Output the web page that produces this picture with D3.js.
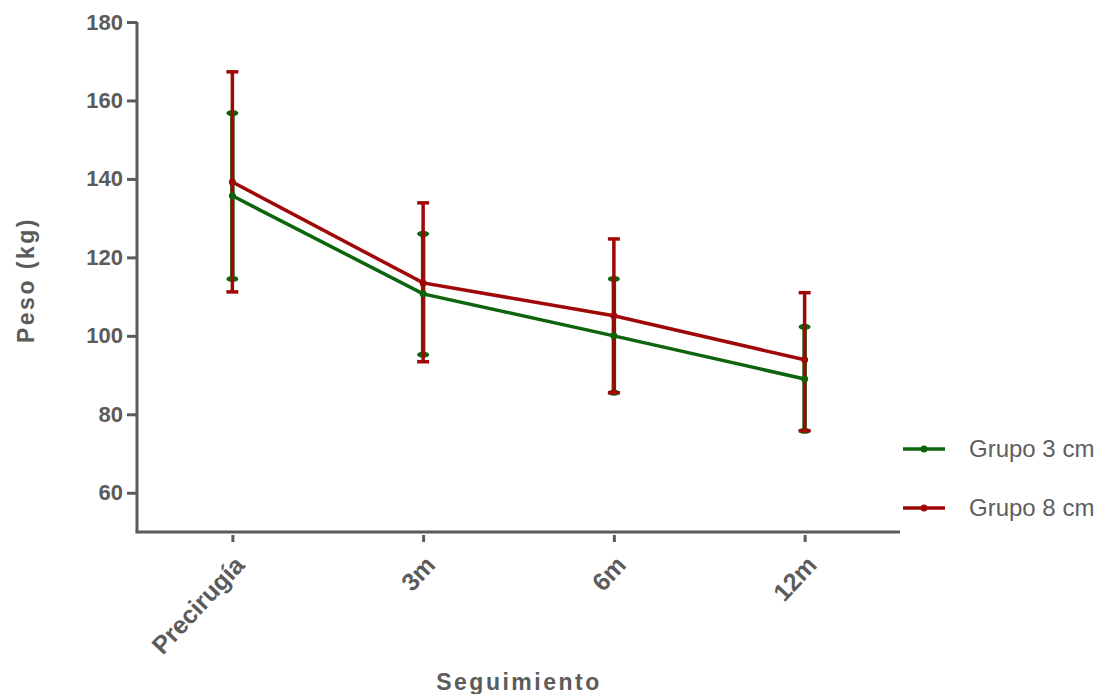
<!DOCTYPE html>
<html>
<head>
  <meta charset='utf-8'>
  <style>
    body { margin: 0; background: #fff; }
    text { font-family: "Liberation Sans", Arial, sans-serif; }
  </style>
  <script src="https://cdn.jsdelivr.net/npm/d3@7"></script>
</head>
<body>
  <script>
    const categories = ["Precirugía", "3m", "6m", "12m"];
    const yTicks = [60, 80, 100, 120, 140, 160, 180];

    const grupo3Mean = [135.7, 110.7, 100.0, 89.0];
    const grupo3Low = [114.5, 95.2, 85.5, 75.8];
    const grupo3High = [156.8, 126.0, 114.5, 102.3];

    const grupo8Mean = [139.2, 113.5, 105.1, 93.9];
    const grupo8Low = [111.2, 93.4, 85.5, 75.8];
    const grupo8High = [167.3, 133.9, 124.7, 111.0];

    const seriesNames = ["Grupo 3 cm", "Grupo 8 cm"];
    const seriesColors = ["#0d640d", "#a00808"];

    const [width, height] = [1099, 694];
    const svg = d3.select("body").append("svg")
      .attr("width", width).attr("height", height);

    const x = d3.scalePoint().domain(categories).range([137, 900]).padding(0.5);
    const y = d3.scaleLinear().domain([50, 180]).range([532, 22]);

    const series = [
      { name: seriesNames[0], color: seriesColors[0], mean: grupo3Mean, low: grupo3Low, high: grupo3High },
      { name: seriesNames[1], color: seriesColors[1], mean: grupo8Mean, low: grupo8Low, high: grupo8High }
    ];

    // axes
    const gy = svg.append("g").attr("transform", "translate(137,0)")
      .call(d3.axisLeft(y).tickValues(yTicks).tickSize(10).tickPadding(4).tickSizeOuter(0));
    const gx = svg.append("g").attr("transform", "translate(0,532)")
      .call(d3.axisBottom(x).tickSize(10).tickPadding(8).tickSizeOuter(0));

    for (const g of [gy, gx]) {
      g.select(".domain").attr("stroke", "#5b5b5b").attr("stroke-width", 3);
      g.selectAll(".tick line").attr("stroke", "#5b5b5b").attr("stroke-width", 3);
      g.selectAll(".tick text").attr("fill", "#5b5b5b")
        .style("font-size", "22px").style("font-weight", "bold");
    }
    gy.select(".domain").attr("d", `M0,${y(180)}V${y(50)}`);
    gx.select(".domain").attr("d", `M${137 - 1.5},0H900`);
    gx.selectAll(".tick line").attr("y1", 3);

    gx.selectAll(".tick text")
      .attr("text-anchor", "end")
      .attr("dx", 0).attr("dy", 0)
      .style("font-size", "25px")
      .attr("transform", "translate(0,22) rotate(-47)");

    // axis titles
    svg.append("text")
      .attr("transform", `translate(34,280) rotate(-90)`)
      .attr("text-anchor", "middle")
      .attr("fill", "#5b5b5b")
      .style("font-size", "23px").style("font-weight", "bold")
      .style("letter-spacing", "2.5px")
      .text("Peso (kg)");

    svg.append("text")
      .attr("x", 519).attr("y", 690)
      .attr("text-anchor", "middle")
      .attr("fill", "#5b5b5b")
      .style("font-size", "23px").style("font-weight", "bold")
      .style("letter-spacing", "2.5px")
      .text("Seguimiento");

    // error bars
    series.forEach((s, si) => {
      const g = svg.append("g");
      categories.forEach((c, i) => {
        const cx = x(c);
        g.append("line")
          .attr("x1", cx).attr("x2", cx)
          .attr("y1", y(s.low[i])).attr("y2", y(s.high[i]))
          .attr("stroke", s.color).attr("stroke-width", si === 0 ? 4.5 : 3.5);
        [s.low[i], s.high[i]].forEach(v => {
          if (si === 0) {
            g.append("ellipse").attr("cx", cx).attr("cy", y(v))
              .attr("rx", 6).attr("ry", 3).attr("fill", s.color);
          } else {
            g.append("line")
              .attr("x1", cx - 6).attr("x2", cx + 6)
              .attr("y1", y(v)).attr("y2", y(v))
              .attr("stroke", s.color).attr("stroke-width", 3.5);
          }
        });
      });
    });

    // mean lines
    const line = d3.line().x((d, i) => x(categories[i])).y(d => y(d));
    series.forEach(s => {
      svg.append("path")
        .datum(s.mean)
        .attr("d", line)
        .attr("fill", "none")
        .attr("stroke", s.color)
        .attr("stroke-width", 3.5);
      svg.append("g").selectAll("circle")
        .data(s.mean)
        .join("circle")
        .attr("cx", (d, i) => x(categories[i]))
        .attr("cy", d => y(d))
        .attr("r", 3.5)
        .attr("fill", s.color);
    });

    // legend
    const legend = svg.append("g");
    series.forEach((s, i) => {
      const ly = 449 + i * 59;
      legend.append("line")
        .attr("x1", 903).attr("x2", 945)
        .attr("y1", ly).attr("y2", ly)
        .attr("stroke", s.color).attr("stroke-width", 3.5);
      legend.append("circle")
        .attr("cx", 924).attr("cy", ly).attr("r", 3.5)
        .attr("fill", s.color);
      legend.append("text")
        .attr("x", 969).attr("y", ly + 8)
        .attr("fill", "#5e5e5e")
        .style("font-size", "24px")
        .text(s.name);
    });
  </script>
</body>
</html>
